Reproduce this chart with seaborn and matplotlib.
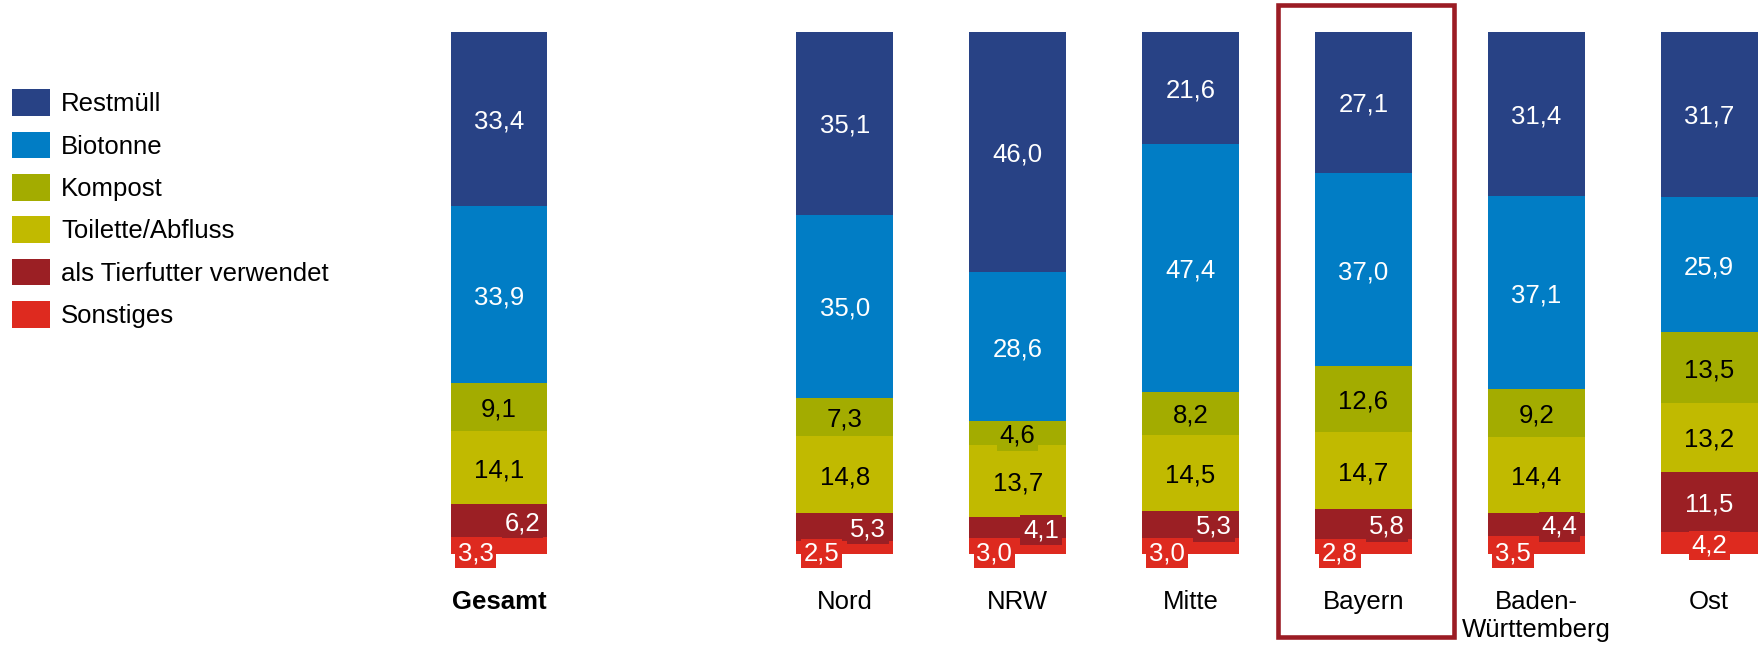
import matplotlib
matplotlib.use("Agg")
import matplotlib.pyplot as plt
from matplotlib.patches import Rectangle
import pandas as pd
import seaborn as sns

# data (percent, bottom segment last)
regions = ["Gesamt", "Nord", "NRW", "Mitte", "Bayern", "Baden-\nWürttemberg", "Ost"]
restmuell = [33.4, 35.1, 46.0, 21.6, 27.1, 31.4, 31.7]
biotonne = [33.9, 35.0, 28.6, 47.4, 37.0, 37.1, 25.9]
kompost = [9.1, 7.3, 4.6, 8.2, 12.6, 9.2, 13.5]
toilette = [14.1, 14.8, 13.7, 14.5, 14.7, 14.4, 13.2]
tierfutter = [6.2, 5.3, 4.1, 5.3, 5.8, 4.4, 11.5]
sonstiges = [3.3, 2.5, 3.0, 3.0, 2.8, 3.5, 4.2]

series_names = ["Restmüll", "Biotonne", "Kompost", "Toilette/Abfluss",
                "als Tierfutter verwendet", "Sonstiges"]
colors = ["#284285", "#017dc5", "#a3ac00", "#c1ba00", "#9b1f24", "#de2a1f"]
text_colors = ["white", "white", "black", "black", "white", "white"]

df = pd.DataFrame({
    "region": regions,
    "Restmüll": restmuell,
    "Biotonne": biotonne,
    "Kompost": kompost,
    "Toilette/Abfluss": toilette,
    "als Tierfutter verwendet": tierfutter,
    "Sonstiges": sonstiges,
})

# empty slot between Gesamt and the regions
order = ["Gesamt", " "] + regions[1:]

sns.set_style("white")
plt.rcParams["font.family"] = ["Liberation Sans", "DejaVu Sans"]
plt.rcParams["font.size"] = 18.5
plt.rcParams["text.color"] = "black"
plt.rcParams["xtick.color"] = "black"

fig = plt.figure(figsize=(17.62, 6.46), dpi=100)
ax = fig.add_axes([0.2341, 0.1424, 0.7654, 0.8088])

# stacked bars: draw cumulative totals from the top segment down
bottom_up = series_names[::-1]
cum = df[bottom_up].cumsum(axis=1)
for name in series_names:
    i = series_names.index(name)
    sns.barplot(data=df.assign(total=cum[name]), x="region", y="total",
                order=order, color=colors[i], saturation=1, width=0.56,
                linewidth=0, errorbar=None, ax=ax, label=name)

# value labels
for r, region in enumerate(regions):
    xpos = order.index(region)
    base = 0
    big_tier = df.loc[r, "als Tierfutter verwendet"] > 8
    for name in bottom_up:
        i = series_names.index(name)
        v = df.loc[r, name]
        txt = f"{v:.1f}".replace(".", ",")
        x, y = xpos, base + v / 2
        if name == "Sonstiges" and not big_tier:
            x, y = xpos - 0.135, 0.6
        elif name == "als Tierfutter verwendet" and not big_tier:
            x = xpos + 0.135
        ax.text(x, y, txt, ha="center", va="center_baseline",
                color=text_colors[i], fontsize=18.5,
                bbox=dict(facecolor=colors[i], edgecolor="none", pad=2))
        base += v

# highlight frame around Bayern
bx = order.index("Bayern")
ax.add_patch(Rectangle((bx - 0.495, -15.9), 1.018, 120.9, fill=False,
                       edgecolor="#9b1c24", linewidth=3.3, clip_on=False))

ax.set_xlim(-0.5, 7.3)
ax.set_ylim(0, 100)
ax.set_xlabel("")
ax.set_ylabel("")
ax.set_yticks([])
ax.tick_params(axis="x", length=0, pad=26, labelsize=18.5)
ax.get_xticklabels()[0].set_fontweight("bold")
sns.despine(ax=ax, left=True, bottom=True)

handles, labels = ax.get_legend_handles_labels()
ax.legend(handles, labels, loc="upper left", bbox_to_anchor=(0.0068, 0.862),
          bbox_transform=fig.transFigure, frameon=False, borderpad=0,
          borderaxespad=0, handlelength=1.48, handleheight=1.22,
          handletextpad=0.43, labelspacing=0.6, fontsize=18.5)

fig.savefig("out.png", dpi=100)
